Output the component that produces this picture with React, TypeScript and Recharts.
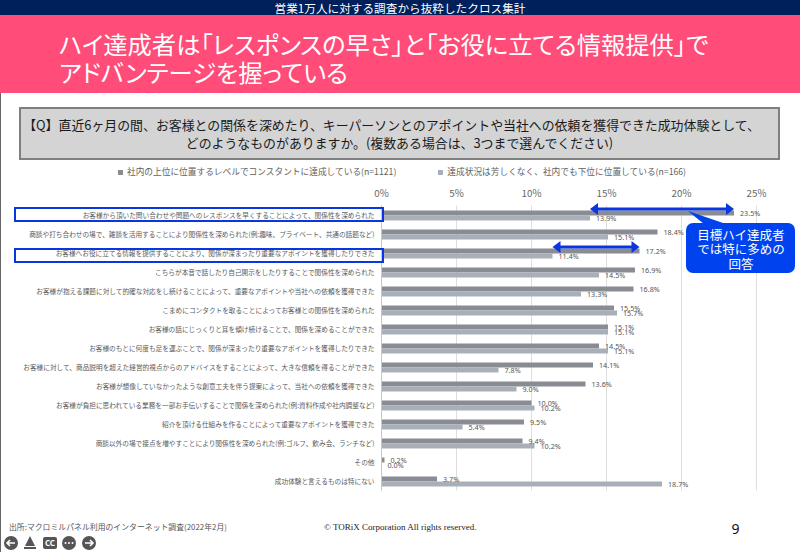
import React from "react";
import { BarChart, Bar, XAxis, YAxis, CartesianGrid, LabelList, Legend, ReferenceLine } from "recharts";

const categories = [
  "お客様から頂いた問い合わせや問題へのレスポンスを早くすることによって、関係性を深められた",
  "商談や打ち合わせの場で、雑談を活用することにより関係性を深められた(例:趣味、プライベート、共通の話題など)",
  "お客様へお役に立てる情報を提供することにより、関係が深まったり重要なアポイントを獲得したりできた",
  "こちらが本音で話したり自己開示をしたりすることで関係性を深められた",
  "お客様が抱える課題に対して的確な対応をし続けることによって、重要なアポイントや当社への依頼を獲得できた",
  "こまめにコンタクトを取ることによってお客様との関係性を深められた",
  "お客様の話にじっくりと耳を傾け続けることで、関係を深めることができた",
  "お客様のもとに何度も足を運ぶことで、関係が深まったり重要なアポイントを獲得したりできた",
  "お客様に対して、商品説明を超えた経営的視点からのアドバイスをすることによって、大きな信頼を得ることができた",
  "お客様が想像していなかったような創意工夫を伴う提案によって、当社への依頼を獲得できた",
  "お客様が負担に思われている業務を一部お手伝いすることで関係を深められた(例:資料作成や社内調整など)",
  "紹介を頂ける仕組みを作ることによって重要なアポイントを獲得できた",
  "商談以外の場で接点を増やすことにより関係性を深められた(例:ゴルフ、飲み会、ランチなど)",
  "その他",
  "成功体験と言えるものは特にない",
];
const topPerformers = [23.5, 18.4, 17.2, 16.9, 16.8, 15.5, 15.1, 14.5, 14.1, 13.6, 10.0, 9.5, 9.4, 0.2, 3.7];
const lowPerformers = [13.9, 15.1, 11.4, 14.5, 13.3, 15.7, 15.1, 15.1, 7.8, 9.0, 10.2, 5.4, 10.2, 0.0, 18.7];
const xTicks = [0, 5, 10, 15, 20, 25];
const seriesNames = [
  "社内の上位に位置するレベルでコンスタントに達成している(n=1121)",
  "達成状況は芳しくなく、社内でも下位に位置している(n=166)",
];
const data = categories.map((name, i) => ({ name, top: topPerformers[i], low: lowPerformers[i] }));

const JP = '"Noto Sans CJK JP", sans-serif';
const BLUE = "#0a36e0";

const CatTick = (p: any) => (
  <text x={p.x + 1} y={p.y} dy={2.5} textAnchor="end" fontSize={6.66} fill="#5a5a5a" fontFamily={JP}>
    {p.payload.value}
  </text>
);

const Arrow = (p: any) => {
  const x1 = p.x1, x2 = p.x2, y = p.y1 - 6;
  return (
    <g>
      <line x1={x1 + 6} x2={x2 - 6} y1={y} y2={y} stroke={BLUE} strokeWidth={3} />
      <polygon points={`${x1},${y} ${x1 + 8},${y - 6} ${x1 + 8},${y + 6}`} fill={BLUE} />
      <polygon points={`${x2},${y} ${x2 - 8},${y - 6} ${x2 - 8},${y + 6}`} fill={BLUE} />
    </g>
  );
};

const pct = (v: any) => `${Number(v).toFixed(1)}%`;
const labelStyle = { fontSize: 7.2, fill: "#555", fontFamily: '"Noto Sans", sans-serif' };

export default function App() {
  return (
    <div style={{ position: "absolute", left: 0, top: 0, width: 800, height: 552, background: "#fff", overflow: "hidden", fontFamily: JP }}>
      <div style={{ position: "absolute", left: 0, top: 0, width: 800, height: 15, background: "#00205b", color: "#fff", fontSize: 11.65, lineHeight: "15px", textAlign: "center" }}>
        営業1万人に対する調査から抜粋したクロス集計
      </div>
      <div style={{ position: "absolute", left: 0, top: 15, width: 800, height: 78, background: "#ff4c78" }} />
      <div style={{ position: "absolute", left: 0, top: 93, width: 1, height: 459, background: "#666" }} />
      <div style={{ position: "absolute", left: 59, top: 30, color: "#fff", fontSize: 24.3, lineHeight: "28px", whiteSpace: "nowrap", fontFeatureSettings: '"palt"' }}>
        ハイ達成者は「レスポンスの早さ」と「お役に立てる情報提供」で
        <br />
        アドバンテージを握っている
      </div>
      <div style={{ position: "absolute", left: 19, top: 107, width: 757, height: 49, background: "#d4d4d4", border: "2px solid #7f7f7f", color: "#1a1a1a", fontSize: 12.9, lineHeight: "18px", textAlign: "center", boxSizing: "content-box" }}>
        <div style={{ marginTop: 7, whiteSpace: "nowrap" }}>
          <span style={{ position: "relative", left: -8 }}>
            【Q】直近6ヶ月の間、お客様との関係を深めたり、キーパーソンとのアポイントや当社への依頼を獲得できた成功体験として、
          </span>
          <br />
          どのようなものがありますか。(複数ある場合は、3つまで選んでください)
        </div>
      </div>

      <div style={{ position: "absolute", left: 0, top: 0 }}>
        <BarChart
          width={800}
          height={552}
          data={data}
          layout="vertical"
          barSize={5}
          barGap={0}
          margin={{ top: 185.5, right: 43.5, bottom: 61.5, left: 0 }}
        >
          <CartesianGrid horizontal={false} stroke="#dedede" strokeWidth={1} />
          <XAxis
            type="number"
            orientation="top"
            domain={[0, 25]}
            ticks={xTicks}
            height={20}
            axisLine={false}
            tickLine={false}
            tickFormatter={(v: number) => `${v}%`}
            tick={{ fontSize: 9.8, fill: "#666", fontFamily: JP }}
            tickMargin={3}
          />
          <YAxis
            type="category"
            dataKey="name"
            width={381.5}
            interval={0}
            axisLine={{ stroke: "#c8c8c8" }}
            tickLine={false}
            tick={<CatTick />}
          />
          <Legend
            layout="horizontal"
            verticalAlign="middle"
            align="center"
            iconType="square"
            iconSize={5}
            wrapperStyle={{ position: "absolute", top: 164, left: 7, width: 800, fontSize: 8.7, fontFamily: JP, lineHeight: "16px", textAlign: "center" }}
            formatter={(v: string, _e: any, i: number) => (
              <span style={{ color: "#5f5f5f", marginRight: i === 0 ? 32 : 0 }}>{v}</span>
            )}
          />
          <Bar dataKey="top" name={seriesNames[0]} fill="#898c93" isAnimationActive={false}>
            <LabelList dataKey="top" position="right" offset={6} formatter={pct} style={labelStyle} />
          </Bar>
          <Bar dataKey="low" name={seriesNames[1]} fill="#a9afb9" minPointSize={0.01} isAnimationActive={false}>
            <LabelList dataKey="low" position="right" offset={6} formatter={pct} style={labelStyle} />
          </Bar>
          <ReferenceLine
            segment={[{ x: lowPerformers[0], y: categories[0] }, { x: topPerformers[0], y: categories[0] }]}
            shape={<Arrow />}
            ifOverflow="visible"
          />
          <ReferenceLine
            segment={[{ x: lowPerformers[2], y: categories[2] }, { x: topPerformers[2], y: categories[2] }]}
            shape={<Arrow />}
            ifOverflow="visible"
          />
        </BarChart>
      </div>

      <div style={{ position: "absolute", left: 13.5, top: 207, width: 366, height: 11, border: `2px solid ${BLUE}` }} />
      <div style={{ position: "absolute", left: 13.5, top: 248, width: 366, height: 11, border: `2px solid ${BLUE}` }} />

      <svg width={800} height={552} style={{ position: "absolute", left: 0, top: 0, pointerEvents: "none" }}>
        <polygon points="688,211 704,224 726,224" fill="#0043ee" />
        <rect x={686} y={223} width={109} height={50} rx={7} fill="#0043ee" />
        <g fill="#fff" fontSize={12.5} textAnchor="middle" fontFamily={JP}>
          <text x={741} y={240}>目標ハイ達成者</text>
          <text x={741} y={254}>では特に多めの</text>
          <text x={741} y={269}>回答</text>
        </g>
        <g fill="#555">
          <circle cx={11} cy={543} r={7} />
          <polygon points="30,536 25,546 35,546" />
          <rect x={24} y={547} width={12} height={2} />
          <rect x={43} y={537} width={14} height={12} rx={2} />
          <circle cx={69} cy={543} r={7} />
          <circle cx={89} cy={543} r={7} />
        </g>
        <path d="M15,543 H7 M10,540 L7,543 L10,546" stroke="#fff" strokeWidth={1.6} fill="none" />
        <path d="M85,543 H93 M90,540 L93,543 L90,546" stroke="#fff" strokeWidth={1.6} fill="none" />
        <g fill="#fff">
          <circle cx={65.5} cy={543} r={1} />
          <circle cx={69} cy={543} r={1} />
          <circle cx={72.5} cy={543} r={1} />
        </g>
        <text x={50} y={546} fill="#fff" fontSize={8} fontWeight={700} textAnchor="middle" fontFamily={JP}>CC</text>
        <text x={9} y={530} fill="#555" fontSize={7.87} fontFamily={JP}>出所:マクロミルパネル利用のインターネット調査(2022年2月)</text>
        <text x={324} y={530} fill="#222" fontSize={9} fontFamily='"Liberation Serif", serif'>© TORiX Corporation All rights reserved.</text>
        <text x={735.5} y={534} fill="#111" fontSize={14} textAnchor="middle" fontFamily='"Noto Sans", sans-serif'>9</text>
      </svg>
    </div>
  );
}
